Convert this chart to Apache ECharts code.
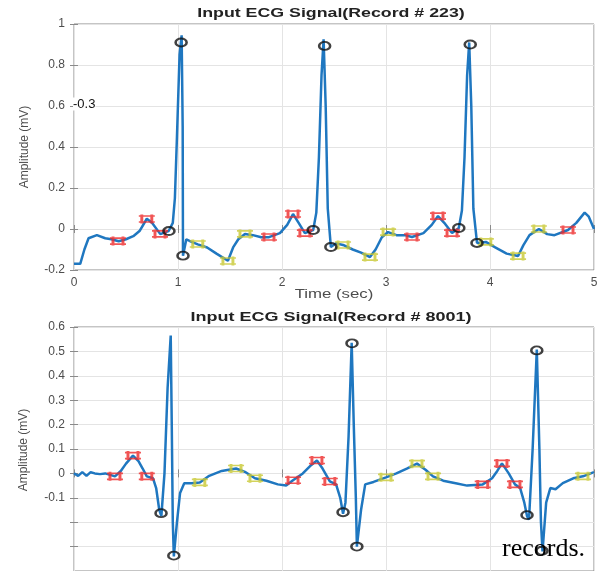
<!DOCTYPE html>
<html>
<head>
<meta charset="utf-8">
<script src="https://cdn.jsdelivr.net/npm/echarts@6/dist/echarts.min.js"></script>
<style>html,body{margin:0;padding:0;background:#fff}#c{width:602px;height:571px}</style>
</head>
<body>
<div id="c"></div>
<script>
// ---------- DATA ----------
const title223 = 'Input ECG Signal(Record # 223)';
const title8001 = 'Input ECG Signal(Record # 8001)';
const xTicks = [0, 1, 2, 3, 4, 5];
const yTicks223 = [-0.2, 0, 0.2, 0.4, 0.6, 0.8, 1];
const yTicks8001 = [-0.1, 0, 0.1, 0.2, 0.3, 0.4, 0.5, 0.6];

// Record 223 signal [time (s), amplitude (mV)]
const ecg223 = [
  [0,-0.17],[0.06,-0.17],[0.1,-0.1],[0.14,-0.045],[0.22,-0.03],[0.3,-0.045],[0.36,-0.05],[0.43,-0.06],
  [0.5,-0.05],[0.57,-0.035],[0.63,-0.01],[0.70,0.05],[0.75,0.03],[0.83,-0.025],[0.88,-0.015],[0.91,-0.01],
  [0.95,0.03],[0.97,0.15],[0.99,0.45],[1.015,0.85],[1.035,0.945],[1.045,0.5],[1.048,-0.13],[1.08,-0.05],
  [1.12,-0.06],[1.19,-0.075],[1.28,-0.09],[1.37,-0.12],[1.48,-0.155],[1.53,-0.09],[1.58,-0.05],[1.644,-0.024],
  [1.72,-0.03],[1.8,-0.04],[1.875,-0.04],[1.98,-0.02],[2.05,0.02],[2.106,0.073],[2.16,0.03],[2.22,-0.02],
  [2.30,-0.005],[2.33,0.08],[2.355,0.35],[2.38,0.75],[2.40,0.925],[2.42,0.6],[2.44,0.1],[2.47,-0.088],
  [2.52,-0.07],[2.587,-0.078],[2.68,-0.1],[2.76,-0.115],[2.846,-0.137],[2.9,-0.1],[2.96,-0.04],[3.02,-0.015],
  [3.1,-0.03],[3.18,-0.03],[3.25,-0.039],[3.36,-0.02],[3.44,0.02],[3.50,0.063],[3.56,0.03],[3.635,-0.02],
  [3.70,0.005],[3.73,0.09],[3.755,0.35],[3.78,0.75],[3.80,0.91],[3.82,0.6],[3.84,0.1],[3.875,-0.068],
  [3.96,-0.063],[4.05,-0.09],[4.16,-0.12],[4.27,-0.132],[4.32,-0.08],[4.38,-0.03],[4.47,0.0],[4.55,-0.025],
  [4.62,-0.03],[4.75,-0.005],[4.83,0.03],[4.91,0.08],[4.95,0.06],[5.0,0.0]
];
const red223 = [[0.423,-0.059],[0.70,0.049],[0.827,-0.024],[1.875,-0.039],[2.106,0.073],[2.22,-0.02],
  [3.25,-0.039],[3.50,0.063],[3.635,-0.02],[4.75,-0.005]];
const yellow223 = [[1.19,-0.073],[1.48,-0.156],[1.644,-0.024],[2.587,-0.078],[2.846,-0.137],[3.02,-0.015],
  [3.96,-0.063],[4.27,-0.132],[4.47,0.0]];
const qrs223 = [[0.913,-0.01],[1.03,0.91],[1.048,-0.13],[2.30,-0.005],[2.41,0.893],[2.47,-0.088],
  [3.70,0.005],[3.81,0.90],[3.875,-0.068]];

// Record 8001 signal [time (s), amplitude (mV)]
const ecg8001 = [
  [0,0],[0.04,-0.01],[0.08,0.005],[0.12,-0.01],[0.16,0.005],[0.2,0.0],[0.25,-0.003],[0.3,0.0],[0.394,-0.012],
  [0.45,0.01],[0.5,0.04],[0.567,0.073],[0.62,0.05],[0.66,0.02],[0.70,-0.012],[0.76,-0.02],[0.79,-0.06],
  [0.82,-0.15],[0.84,-0.175],[0.87,0.0],[0.9,0.35],[0.93,0.565],[0.94,0.2],[0.95,-0.2],[0.96,-0.34],
  [0.99,-0.2],[1.02,-0.08],[1.06,-0.04],[1.13,-0.04],[1.21,-0.037],[1.3,-0.01],[1.42,0.01],[1.558,0.02],
  [1.65,0.005],[1.74,-0.02],[1.85,-0.03],[1.96,-0.045],[2.04,-0.05],[2.106,-0.028],[2.2,0.0],[2.27,0.03],
  [2.336,0.053],[2.39,0.02],[2.46,-0.033],[2.52,-0.045],[2.56,-0.1],[2.587,-0.165],[2.61,-0.12],[2.64,0.15],
  [2.67,0.535],[2.69,0.2],[2.71,-0.1],[2.72,-0.30],[2.76,-0.15],[2.80,-0.045],[2.88,-0.035],[3.0,-0.016],
  [3.1,0.0],[3.2,0.02],[3.298,0.04],[3.38,0.015],[3.452,-0.012],[3.55,-0.03],[3.67,-0.04],[3.78,-0.05],
  [3.93,-0.045],[4.02,-0.02],[4.07,0.01],[4.115,0.041],[4.18,0.0],[4.24,-0.045],[4.29,-0.06],[4.33,-0.12],
  [4.356,-0.175],[4.375,-0.19],[4.41,0.1],[4.45,0.508],[4.475,0.1],[4.49,-0.2],[4.505,-0.32],[4.54,-0.12],
  [4.58,-0.06],[4.63,-0.065],[4.7,-0.04],[4.8,-0.02],[4.894,-0.012],[5.0,0.005]
];
const red8001 = [[0.394,-0.012],[0.567,0.073],[0.70,-0.012],[2.106,-0.028],[2.336,0.053],[2.46,-0.033],
  [3.93,-0.045],[4.115,0.041],[4.24,-0.045]];
const yellow8001 = [[1.21,-0.037],[1.558,0.02],[1.74,-0.02],[3.0,-0.016],[3.298,0.04],[3.452,-0.012],[4.894,-0.012]];
const qrs8001 = [[0.837,-0.163],[0.96,-0.337],[2.587,-0.159],[2.673,0.533],[2.72,-0.30],
  [4.356,-0.171],[4.45,0.504],[4.50,-0.317]];

// ---------- CHART ----------
const blue = '#1f77c0';
const hashPath = 'path://M0,1.5L16,1.5M0,7.5L16,7.5M3,0L3,9M13,0L13,9';
const labelColor = '#4d4d4d';
const gridColor = '#e4e4e4';
const borderColor = '#8a8a8a';
function fmt(v){ const r = Math.round(v*10)/10; return r === 0 ? '0' : String(r); }

function mainX(gi, showLabels){
  return { gridIndex: gi, type:'value', min:0, max:5, interval:1, position:'bottom',
    axisLine:{show:false}, axisTick:{show:true, inside:true, length:4, lineStyle:{color:borderColor}},
    axisLabel:{show:showLabels, color:labelColor, fontSize:12, fontFamily:'Liberation Sans', margin:7,
      formatter: v => xTicks.indexOf(Math.round(v)) >= 0 ? String(Math.round(v)) : ''},
    splitLine:{show:true, lineStyle:{color:gridColor, width:1}} };
}
function topX(gi){
  return { gridIndex: gi, type:'value', min:0, max:5, interval:1, position:'top',
    axisLine:{show:false}, axisTick:{show:true, inside:true, length:4, lineStyle:{color:borderColor}},
    axisLabel:{show:false}, splitLine:{show:false} };
}
function leftY(gi, min, max, interval, ticks){
  return { gridIndex: gi, type:'value', min, max, interval, position:'left',
    axisLine:{show:false}, axisTick:{show:true, inside:true, length:4, lineStyle:{color:borderColor}},
    axisLabel:{color:labelColor, fontSize:12, fontFamily:'Liberation Sans', margin:9,
      formatter: v => ticks.some(t => Math.abs(t - v) < 1e-6) ? fmt(v) : ''},
    splitLine:{show:true, lineStyle:{color:gridColor, width:1}} };
}
function rightY(gi, min, max, interval){
  return { gridIndex: gi, type:'value', min, max, interval, position:'right',
    axisLine:{show:false}, axisTick:{show:true, inside:true, length:4, lineStyle:{color:borderColor}},
    axisLabel:{show:false}, splitLine:{show:false} };
}
function markerSeries(data, xi, yi, kind){
  if (kind === 'circle') {
    return { type:'scatter', xAxisIndex:xi, yAxisIndex:yi, data, symbol:'circle', symbolSize:[11,8], z:5,
      itemStyle:{color:'rgba(0,0,0,0)', borderColor:'#111', borderWidth:2.2}, silent:true };
  }
  const col = kind === 'red' ? '#ee2a2a' : '#c8c832';
  return { type:'scatter', xAxisIndex:xi, yAxisIndex:yi, data, symbol:hashPath, symbolSize:[16,9], z:4,
    itemStyle:{color:'rgba(0,0,0,0)', borderColor:col, borderWidth:2.2}, silent:true };
}

const chart = echarts.init(document.getElementById('c'), null, {renderer:'canvas'});
chart.setOption({
  animation:false,
  backgroundColor:'#fff',
  grid:[
    {left:74, top:24, width:520, height:246, show:true, borderColor:borderColor, borderWidth:1},
    {left:74, top:327, width:520, height:246, show:true, borderColor:borderColor, borderWidth:1}
  ],
  xAxis:[ mainX(0, true), topX(0), mainX(1, false), topX(1) ],
  yAxis:[ leftY(0, -0.2, 1, 0.2, yTicks223), rightY(0, -0.2, 1, 0.2),
          leftY(1, -0.4, 0.6, 0.1, yTicks8001), rightY(1, -0.4, 0.6, 0.1) ],
  series:[
    { type:'line', xAxisIndex:0, yAxisIndex:0, data:ecg223, showSymbol:false, smooth:false,
      lineStyle:{color:blue, width:2.5}, z:3, silent:true },
    markerSeries(red223, 0, 0, 'red'),
    markerSeries(yellow223, 0, 0, 'yellow'),
    markerSeries(qrs223, 0, 0, 'circle'),
    { type:'line', xAxisIndex:2, yAxisIndex:2, data:ecg8001, showSymbol:false, smooth:false,
      lineStyle:{color:blue, width:2.5}, z:3, silent:true },
    markerSeries(red8001, 2, 2, 'red'),
    markerSeries(yellow8001, 2, 2, 'yellow'),
    markerSeries(qrs8001, 2, 2, 'circle')
  ],
  graphic:[
    { type:'text', x:331, y:14, scaleX:1.48, z:10,
      style:{text:title223, font:'bold 12px "Liberation Sans"', fill:'#222', align:'center', verticalAlign:'middle'} },
    { type:'text', x:331, y:318, scaleX:1.5, z:10,
      style:{text:title8001, font:'bold 12px "Liberation Sans"', fill:'#222', align:'center', verticalAlign:'middle'} },
    { type:'text', x:334, y:295, scaleX:1.4, z:10,
      style:{text:'Time (sec)', font:'12px "Liberation Sans"', fill:labelColor, align:'center', verticalAlign:'middle'} },
    { type:'text', x:25, y:147, rotation:Math.PI/2, z:10,
      style:{text:'Amplitude (mV)', font:'12px "Liberation Sans"', fill:labelColor, align:'center', verticalAlign:'middle'} },
    { type:'text', x:24, y:450, rotation:Math.PI/2, z:10,
      style:{text:'Amplitude (mV)', font:'12px "Liberation Sans"', fill:labelColor, align:'center', verticalAlign:'middle'} },
    { type:'text', x:73, y:104, z:10,
      style:{text:'-0.3', font:'13px "Liberation Sans"', fill:'#111', align:'left', verticalAlign:'middle', backgroundColor:'#fff'} },
    { type:'text', x:502, y:549, z:10,
      style:{text:'records.', font:'26px "Liberation Serif"', fill:'#000', align:'left', verticalAlign:'middle'} }
  ]
});
</script>
</body>
</html>
